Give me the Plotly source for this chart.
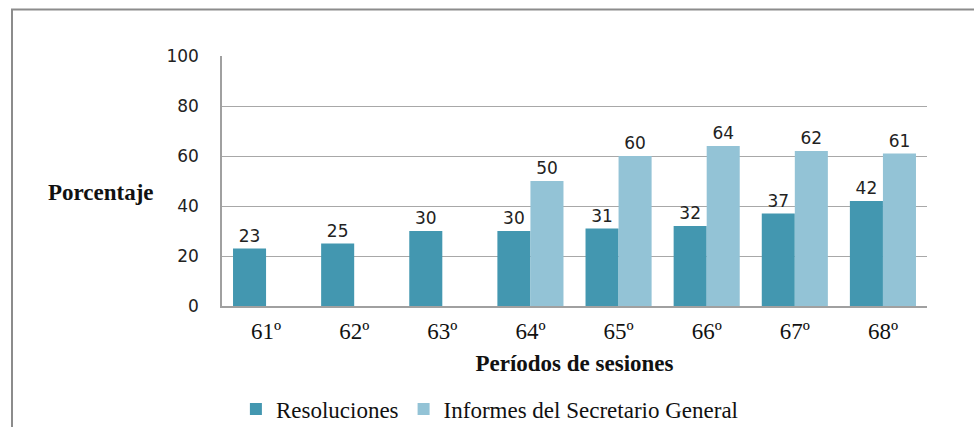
import plotly.graph_objects as go

periodos = ["61º", "62º", "63º", "64º", "65º", "66º", "67º", "68º"]
resoluciones = [23, 25, 30, 30, 31, 32, 37, 42]
informes = [None, None, None, 50, 60, 64, 62, 61]
y_ticks = [0, 20, 40, 60, 80, 100]

c_res = "#4397B0"
c_inf = "#93C3D6"
serif = "Liberation Serif, Times New Roman, serif"
sans = "DejaVu Sans, Verdana, sans-serif"

fig = go.Figure()
fig.add_trace(go.Bar(
    name="Resoluciones", x=periodos, y=resoluciones,
    marker=dict(color=c_res, line=dict(width=0)),
    text=resoluciones, textposition="outside",
    textfont=dict(family=sans, size=17, color="#222"), cliponaxis=False,
))
fig.add_trace(go.Bar(
    name="Informes del Secretario General", x=periodos, y=informes,
    marker=dict(color=c_inf, line=dict(width=0)),
    text=[v if v is not None else "" for v in informes], textposition="outside",
    textfont=dict(family=sans, size=17, color="#222"), cliponaxis=False,
))

fig.update_layout(
    width=974, height=427,
    margin=dict(l=222, r=47, t=56, b=121, autoexpand=False),
    paper_bgcolor="white", plot_bgcolor="white",
    barmode="group", bargap=0.25, bargroupgap=0,
    showlegend=True,
    legend=dict(orientation="h", x=0.380, xanchor="center", y=-0.412, yanchor="middle",
                font=dict(family=serif, size=23, color="#111"),
                itemwidth=30, traceorder="normal"),
    xaxis=dict(
        automargin=False,
        showline=True, linecolor="#A0A0A0", linewidth=1.5,
        tickfont=dict(family=serif, size=23, color="#111"),
        ticks="", ticklabelstandoff=4,
        title=dict(text="<b>Períodos de sesiones</b>",
                   font=dict(family=serif, size=23, color="#111"), standoff=12),
    ),
    yaxis=dict(
        automargin=False,
        range=[0, 100], tickvals=y_ticks,
        showgrid=True, gridcolor="#A8A8A8", gridwidth=1.2,
        showline=True, linecolor="#A0A0A0", linewidth=1.5,
        zeroline=False,
        tickfont=dict(family=sans, size=17, color="#222"),
        ticks="", ticklabelstandoff=18,
    ),
    annotations=[dict(
        text="<b>Porcentaje</b>", xref="paper", yref="paper",
        x=-0.094, y=0.455, xanchor="right", yanchor="middle", showarrow=False,
        font=dict(family=serif, size=23, color="#111"),
    )],
    shapes=[dict(
        type="rect", xref="paper", yref="paper",
        x0=(12 - 222) / 705, x1=(1200 - 222) / 705,
        y0=(306 - 600) / 250, y1=(306 - 9.5) / 250,
        line=dict(color="#8C8C8C", width=2), layer="below",
    )],
)

fig.write_html("out.html", config={"displayModeBar": False},
               post_script="document.body.style.margin='0px';")
